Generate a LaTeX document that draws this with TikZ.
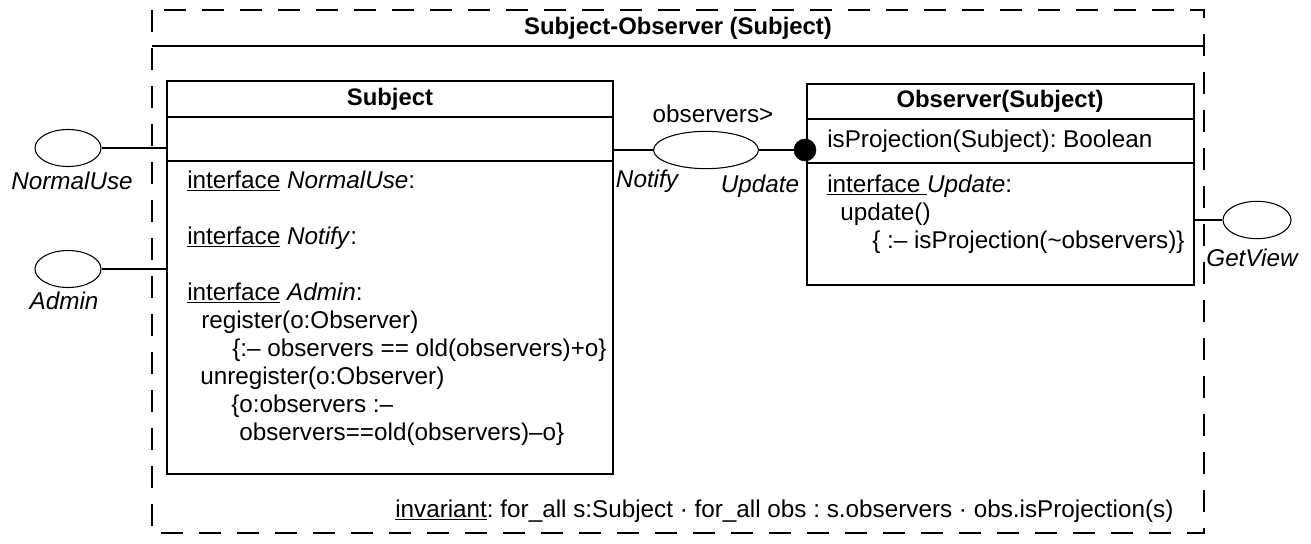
\documentclass[tikz,border=0pt]{standalone}
\usepackage{fontspec}
\setmainfont{Liberation Sans}
\usetikzlibrary{shapes.geometric}
\newcommand\dgfont{\fontsize{18.2}{21.8}\selectfont\frenchspacing}
\newcommand\dgtfont{\fontsize{17.9}{21.5}\selectfont\frenchspacing\bfseries}
\begin{document}
\begin{tikzpicture}[x=0.75pt,y=-0.75pt,
  thinline/.style={line width=0.8pt},
  sepline/.style={line width=1.8pt},
  frameline/.style={line width=0.8pt,dash pattern=on 16.5pt off 12pt},
  umlbox/.style={draw,thinline,rectangle,inner sep=0pt},
  iface/.style={draw,thinline,ellipse,inner sep=0pt},
  txt/.style={anchor=base west,inner sep=0pt,font=\dgfont},
  lbl/.style={inner sep=0pt,font=\dgfont\itshape},
  ttl/.style={inner sep=0pt,font=\dgtfont},
  conn/.style={thinline},
  ball/.style={circle,fill=black,draw=black,inner sep=0pt,minimum size=16.5pt}]
\useasboundingbox (0,0) rectangle (1311,543);
% frame
\draw[frameline] (152,10) rectangle (1204,533);
\draw[sepline] (152,46) -- (1204,46);
\node[ttl] (ftitle) at (678,28) {Subject-Observer (Subject)};
% Subject box
\node[umlbox,minimum width=334.5pt,minimum height=294.75pt] (subj) at (390,277.5) {};
\draw[sepline] (167,117) -- (613,117);
\draw[sepline] (167,161) -- (613,161);
\node[ttl] (stitle) at (390,99) {Subject};
\node[txt] (s1) at (187,188) {\underline{interface} \textit{NormalUse}:};
\node[txt] (s2) at (187,244) {\underline{interface} \textit{Notify}:};
\node[txt] (s3) at (187,300) {\underline{interface} \textit{Admin}:};
\node[txt] (s4) at (201,328) {register(o:Observer)};
\node[txt] (s5) at (232,356) {\{:– observers == old(observers)+o\}};
\node[txt] (s6) at (200,384) {unregister(o:Observer)};
\node[txt] (s7) at (231,412) {\{o:observers :–};
\node[txt] (s8) at (239,440) {observers==old(observers)–o\}};
% Observer box
\node[umlbox,minimum width=290.25pt,minimum height=150.75pt] (obs) at (1000.5,184.5) {};
\draw[sepline] (807,119) -- (1194,119);
\draw[sepline] (807,163) -- (1194,163);
\node[ttl] (otitle) at (1000,101) {Observer(Subject)};
\node[txt] (o1) at (827,147) {isProjection(Subject): Boolean};
\node[txt] (o2) at (827,192) {\underline{interface\ }\textit{Update}:};
\node[txt] (o3) at (840,220) {update()};
\node[txt] (o4) at (872,248) {\{ :– isProjection(\textasciitilde observers)\}};
% interfaces
\node[iface,minimum width=49.5pt,minimum height=27.75pt] (nu) at (68,148) {};
\node[lbl] (nul) at (72,181) {NormalUse};
\node[iface,minimum width=49.5pt,minimum height=27.75pt] (adm) at (68,269) {};
\node[lbl] (adml) at (64,301) {Admin};
\node[iface,minimum width=78.75pt,minimum height=28pt] (ntf) at (706,150) {};
\node[lbl] (ntfl) at (647,181) {Notify};
\node[lbl] (updl) at (760,186) {Update};
\node[inner sep=0pt,font=\dgfont] (obsl) at (713,114) {observers>};
\node[iface,minimum width=51pt,minimum height=28pt] (gv) at (1257,220) {};
\node[lbl] (gvl) at (1252,258) {GetView};
\node[ball] (dot) at (805,150) {};
% connectors
\draw[conn] (nu.east) -- (nu.east -| subj.west);
\draw[conn] (adm.east) -- (adm.east -| subj.west);
\draw[conn] (ntf.west -| subj.east) -- (ntf.west);
\draw[conn] (ntf.east) -- (dot.center);
\draw[conn] (gv.west -| obs.east) -- (gv.west);
% invariant
\node[txt] (inv) at (395,517) {\underline{invariant}: for\_all s:Subject · for\_all obs : s.observers · obs.isProjection(s)};
\end{tikzpicture}
\end{document}
